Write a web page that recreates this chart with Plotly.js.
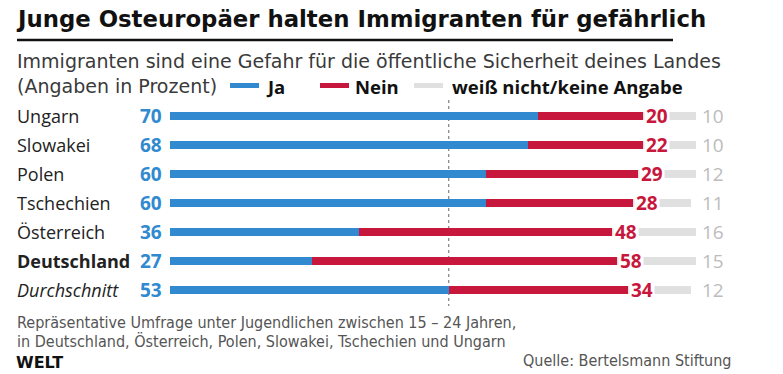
<!DOCTYPE html>
<html><head><meta charset="utf-8">
<script src="https://cdn.plot.ly/plotly-3.0.1.min.js"></script>
<style>html,body{margin:0;padding:0;background:#fff}#c{width:783px;height:374px}</style>
</head><body><div id="c"></div>
<script>
const countries = ["Ungarn","Slowakei","Polen","Tschechien","Österreich","Deutschland","Durchschnitt"];
const countryLabels = ["Ungarn","Slowakei","Polen","Tschechien","Österreich","<b>Deutschland</b>","<i>Durchschnitt</i>"];
const ja = [70,68,60,60,36,27,53];
const nein = [20,22,29,28,48,58,34];
const weissNicht = [10,10,12,11,16,15,12];
const averageJa = 53;

const W=783,H=374;
const BLUE="#3189cf", RED="#c8173d", GREY="#e0e0e0";
const F="'Open Sans', 'Noto Sans', sans-serif";
const FT="'DejaVu Sans', sans-serif";
const px=x=>x/W, py=y=>1-y/H;

const barW=0.28;
const traces=[
 {type:'bar',orientation:'h',y:countries,x:ja,marker:{color:BLUE},width:barW,hoverinfo:'none'},
 {type:'bar',orientation:'h',y:countries,x:nein,marker:{color:RED},width:barW,hoverinfo:'none'},
 {type:'bar',orientation:'h',y:countries,x:weissNicht,marker:{color:GREY},width:barW,hoverinfo:'none'}
];

const ann=[];
countries.forEach((c,i)=>{
  ann.push({xref:'paper',yref:'y',x:px(15),y:c,xanchor:'left',yanchor:'middle',text:countryLabels[i],showarrow:false,font:{family:F,size:18,color:'#222'}});
  ann.push({xref:'x',yref:'y',x:0,y:c,xanchor:'right',yanchor:'middle',xshift:-6,text:'<b>'+ja[i]+'</b>',showarrow:false,font:{family:F,size:19,color:BLUE}});
  ann.push({xref:'x',yref:'y',x:ja[i]+nein[i],y:c,xanchor:'left',yanchor:'middle',xshift:1,text:'<b>'+nein[i]+'</b>',showarrow:false,bgcolor:'#fff',borderpad:1,font:{family:F,size:19,color:RED}});
  ann.push({xref:'paper',yref:'y',x:px(726),y:c,xanchor:'right',yanchor:'middle',text:String(weissNicht[i]),showarrow:false,font:{family:F,size:19,color:'#bcbcbc'}});
});
// titles
ann.push({xref:'paper',yref:'paper',x:px(14),y:py(19),xanchor:'left',yanchor:'middle',text:'<b>Junge Osteuropäer halten Immigranten für gefährlich</b>',showarrow:false,font:{family:FT,size:22.8,color:'#111'}});
ann.push({xref:'paper',yref:'paper',x:px(15),y:py(61),xanchor:'left',yanchor:'middle',text:'Immigranten sind eine Gefahr für die öffentliche Sicherheit deines Landes',showarrow:false,font:{family:FT,size:19,color:'#3a3a3a'}});
ann.push({xref:'paper',yref:'paper',x:px(15),y:py(86),xanchor:'left',yanchor:'middle',text:'(Angaben in Prozent)',showarrow:false,font:{family:FT,size:19,color:'#3a3a3a'}});
ann.push({xref:'paper',yref:'paper',x:px(264),y:py(86),xanchor:'left',yanchor:'middle',text:'<b>Ja</b>',showarrow:false,font:{family:F,size:18.5,color:'#111'}});
ann.push({xref:'paper',yref:'paper',x:px(353),y:py(86),xanchor:'left',yanchor:'middle',text:'<b>Nein</b>',showarrow:false,font:{family:F,size:18.5,color:'#111'}});
ann.push({xref:'paper',yref:'paper',x:px(450),y:py(86),xanchor:'left',yanchor:'middle',text:'<b>weiß nicht/keine Angabe</b>',showarrow:false,font:{family:F,size:18.5,color:'#111'}});
// footer
const FN="'Liberation Sans Narrow','DejaVu Sans Condensed', sans-serif";
ann.push({xref:'paper',yref:'paper',x:px(15),y:py(322),xanchor:'left',yanchor:'middle',text:'Repräsentative Umfrage unter Jugendlichen zwischen 15 – 24 Jahren,',showarrow:false,font:{family:FN,size:16,color:'#555'}});
ann.push({xref:'paper',yref:'paper',x:px(15),y:py(341),xanchor:'left',yanchor:'middle',text:'in Deutschland, Österreich, Polen, Slowakei, Tschechien und Ungarn',showarrow:false,font:{family:FN,size:16,color:'#555'}});
ann.push({xref:'paper',yref:'paper',x:px(734),y:py(360),xanchor:'right',yanchor:'middle',text:'Quelle: Bertelsmann Stiftung',showarrow:false,font:{family:FN,size:16,color:'#555'}});
ann.push({xref:'paper',yref:'paper',x:px(14),y:py(362),xanchor:'left',yanchor:'middle',text:'<b>WELT</b>',showarrow:false,font:{family:FT,size:16,color:'#111'}});

const shapes=[
 {type:'line',xref:'paper',yref:'paper',x0:px(17),x1:px(673),y0:py(40),y1:py(40),line:{color:'#111',width:2.5}},
 {type:'rect',xref:'paper',yref:'paper',x0:px(230),x1:px(259),y0:py(83),y1:py(88),fillcolor:BLUE,line:{width:0}},
 {type:'rect',xref:'paper',yref:'paper',x0:px(320),x1:px(349),y0:py(83),y1:py(88),fillcolor:RED,line:{width:0}},
 {type:'rect',xref:'paper',yref:'paper',x0:px(414),x1:px(443),y0:py(83),y1:py(88),fillcolor:GREY,line:{width:0}},
 {type:'line',xref:'x',yref:'paper',x0:averageJa,x1:averageJa,y0:py(100),y1:py(306),line:{color:'#666',width:1,dash:'dot'},layer:'below'}
];

const layout={
 width:W,height:H,margin:{l:0,r:0,t:0,b:0},paper_bgcolor:'#fff',plot_bgcolor:'rgba(0,0,0,0)',
 barmode:'stack',showlegend:false,
 xaxis:{domain:[px(170),px(696)],range:[0,100],showgrid:false,zeroline:false,showticklabels:false,fixedrange:true},
 yaxis:{domain:[py(304.5),py(101.5)],type:'category',range:[6.5,-0.5],showgrid:false,zeroline:false,showticklabels:false,fixedrange:true},
 annotations:ann,shapes:shapes
};
Plotly.newPlot('c',traces,layout,{displayModeBar:false,staticPlot:true});
</script></body></html>
